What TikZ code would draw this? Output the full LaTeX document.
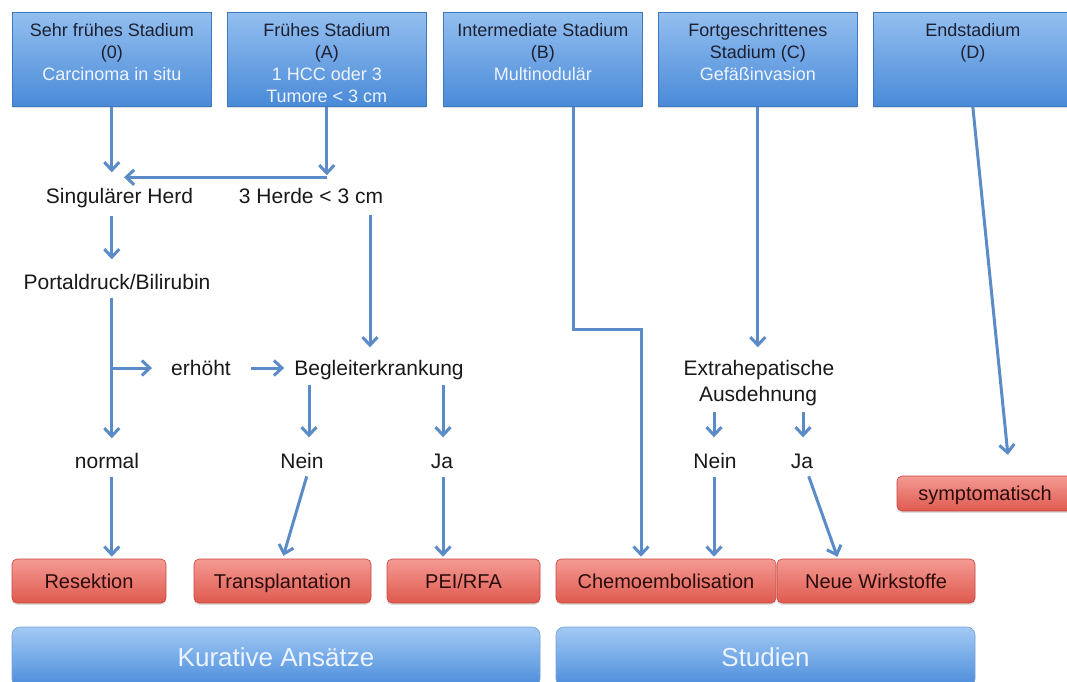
\documentclass[tikz,border=0pt]{standalone}
\usepackage{fontspec}
\setmainfont{Liberation Sans}
\usetikzlibrary{arrows.meta,calc,shadows}
\definecolor{arrowblue}{HTML}{5B8CC8}
\definecolor{boxtop}{HTML}{93BFF0}
\definecolor{boxbot}{HTML}{4A8AD8}
\definecolor{boxline}{HTML}{3F78BE}
\definecolor{redtop}{HTML}{F49A93}
\definecolor{redbot}{HTML}{DF5A4F}
\definecolor{redline}{HTML}{C8473F}
\definecolor{bartop}{HTML}{A3CAF5}
\definecolor{barbot}{HTML}{4A8CDB}
\definecolor{darktext}{HTML}{1E2030}
\definecolor{paletext}{HTML}{EEF4FF}
\definecolor{redtext}{HTML}{2A0C0C}
\begin{document}
\begin{tikzpicture}[x=1pt,y=-1pt,
  stagebox/.style={draw=boxline, line width=0.6pt, top color=boxtop, bottom color=boxbot,
    minimum width=199pt, minimum height=94pt, anchor=north west, inner sep=0pt,
    drop shadow={opacity=0.25, shadow xshift=0pt, shadow yshift=-2pt}},
  stagetxt/.style={font=\fontsize{18}{22}\selectfont, align=center, inner sep=0pt,
    anchor=north, text=darktext},
  resbox/.style={draw=redline, line width=0.6pt, top color=redtop, bottom color=redbot,
    rounded corners=5pt, minimum height=44pt, font=\fontsize{20}{24}\selectfont,
    text=redtext, inner sep=0pt, text height=14.5pt, text depth=0pt,
    drop shadow={opacity=0.25, shadow xshift=0pt, shadow yshift=-2pt}},
  barbox/.style={draw=boxline!70, line width=0.6pt, top color=bartop, bottom color=barbot,
    rounded corners=8pt, minimum height=60pt, text=paletext,
    font=\fontsize{26}{30}\selectfont, inner sep=0pt, text height=18.6pt, text depth=0pt},
  lbl/.style={font=\fontsize{21}{25}\selectfont, inner sep=0pt, text height=15pt,
    text depth=0pt, text=black!90},
  arr/.style={draw=arrowblue, line width=3pt, -{Straight Barb[length=8pt,width=15pt]}}
]
\useasboundingbox (0,0) rectangle (1067,681);
\fill[white] (0,0) rectangle (1067,681);

% stage boxes
\node[stagebox] (b0) at (12,12) {};
\node[stagebox] (b1) at (227,12) {};
\node[stagebox] (b2) at (443,12) {};
\node[stagebox] (b3) at (658,12) {};
\node[stagebox] (b4) at (873,12) {};
\node[stagetxt] (t0) at ([yshift=-11.5pt]b0.north) {Sehr frühes Stadium\\(0)\\\textcolor{paletext}{Carcinoma in situ}};
\node[stagetxt] (t1) at ([yshift=-11.5pt]b1.north) {Frühes Stadium\\(A)\\\textcolor{paletext}{1 HCC oder 3}\\\textcolor{paletext}{Tumore < 3 cm}};
\node[stagetxt] (t2) at ([yshift=-11.5pt]b2.north) {Intermediate Stadium\\(B)\\\textcolor{paletext}{Multinodulär}};
\node[stagetxt] (t3) at ([yshift=-11.5pt]b3.north) {Fortgeschrittenes\\Stadium (C)\\\textcolor{paletext}{Gefäßinvasion}};
\node[stagetxt] (t4) at ([yshift=-11.5pt]b4.north) {Endstadium\\(D)};

% middle labels
\node[lbl] (sing) at (119.5,196) {Singulärer Herd};
\node[lbl] (herde) at (311,196) {3 Herde < 3 cm};
\node[lbl] (port) at (117,282) {Portaldruck/Bilirubin};
\node[lbl] (erh) at (201,368) {erhöht};
\node[lbl] (begl) at (379,368) {Begleiterkrankung};
\node[lbl] (norm) at (107,461) {normal};
\node[lbl] (nein1) at (302,461) {Nein};
\node[lbl] (ja1) at (442,461) {Ja};
\node[lbl] (ext1) at (759,368) {Extrahepatische};
\node[lbl] (ext2) at (758,394) {Ausdehnung};
\node[lbl] (nein2) at (715,461) {Nein};
\node[lbl] (ja2) at (802,461) {Ja};

% result boxes
\node[resbox, minimum width=154pt] (resek) at (89,581) {Resektion};
\node[resbox, minimum width=177pt] (trans) at (282.5,581) {Transplantation};
\node[resbox, minimum width=153pt] (pei) at (463.5,581) {PEI/RFA};
\node[resbox, minimum width=220pt] (chemo) at (666,581) {Chemoembolisation};
\node[resbox, minimum width=198pt] (neue) at (876,581) {Neue Wirkstoffe};
\node[resbox, minimum width=176pt, minimum height=35pt] (sympt) at (985,493.5) {symptomatisch};

% bars
\node[barbox, minimum width=528pt] (kur) at (276,657) {Kurative Ansätze};
\node[barbox, minimum width=419pt] (stud) at (765.5,657) {Studien};

% connectors
\draw[arr, shorten >=16pt] (b0.south) -- (b0.south |- sing.north);
\draw[arr, shorten >=13pt] (b1.south) -- (b1.south |- herde.north);
\coordinate (j1) at ($(b1.south |- herde.north)+(0,-11)$);
\draw[arr, shorten >=4.5pt] (j1) -- (j1 -| sing.north);
\draw[arr, shorten <=12pt, shorten >=15pt] (b0.south |- sing.south) -- (b0.south |- port.north);
\coordinate (h1) at ($(herde.south)+(59,0)$);
\draw[arr, shorten <=11pt, shorten >=13pt] (h1) -- (h1 |- begl.north);
\draw[arr, shorten <=8pt, shorten >=15pt] (b0.south |- port.south) -- (b0.south |- norm.north);
\draw[arr, shorten <=8pt, shorten >=2pt] (b0.south |- norm.south) -- (b0.south |- resek.north);
\draw[arr, shorten >=19pt] (b0.south |- erh.west) -- (erh.west);
\draw[arr, shorten <=20pt, shorten >=10pt] (erh.east) -- (begl.west);
\coordinate (g1) at ($(nein1.north)+(7,0)$);
\draw[arr, shorten <=9pt, shorten >=16pt] (g1 |- begl.south) -- (g1);
\coordinate (g2) at ($(ja1.north)+(1,0)$);
\draw[arr, shorten <=9pt, shorten >=16pt] (g2 |- begl.south) -- (g2);
\draw[arr, shorten <=8pt, shorten >=3pt] ($(nein1.south)+(7,0)$) -- (trans.north);
\coordinate (g3) at ($(ja1.south)+(1,0)$);
\draw[arr, shorten <=8pt, shorten >=2pt] (g3) -- (g3 |- pei.north);
\coordinate (c1) at ($(b2.south)+(31,0)$);
\coordinate (c2) at ($(chemo.north)+(-25,0)$);
\coordinate (bend) at ($(c2)+(0,-229)$);
\draw[arr, shorten >=2pt] (c1) |- (bend) -- (c2);
\draw[arr, shorten >=13pt] (b3.south) -- (b3.south |- ext1.north);
\coordinate (e1) at ($(nein2.north)+(-1,0)$);
\draw[arr, shorten <=10pt, shorten >=16pt] (e1 |- ext2.south) -- (e1);
\coordinate (e2) at ($(ja2.north)+(1,0)$);
\draw[arr, shorten <=10pt, shorten >=16pt] (e2 |- ext2.south) -- (e2);
\draw[arr, shorten <=8pt, shorten >=2pt] (e1 |- nein2.south) -- (e1 |- chemo.north);
\draw[arr, shorten <=8pt, shorten >=2pt] ($(ja2.south)+(4,0)$) -- ($(neue.north)+(-38,0)$);
\draw[arr, shorten >=21pt] (b4.south) -- ($(sympt.north)+(25,0)$);
\end{tikzpicture}
\end{document}
